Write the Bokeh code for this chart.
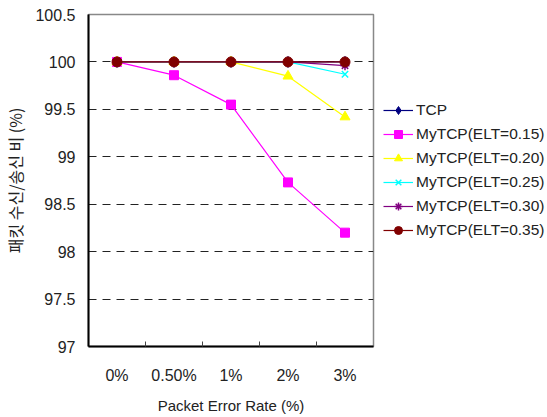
from bokeh.plotting import figure
from bokeh.models import FixedTicker, Legend, LegendItem, Range1d
from bokeh.embed import file_html
from bokeh.resources import INLINE

categories = ["0%", "0.50%", "1%", "2%", "3%"]
series_names = ["TCP", "MyTCP(ELT=0.15)", "MyTCP(ELT=0.20)", "MyTCP(ELT=0.25)",
                "MyTCP(ELT=0.30)", "MyTCP(ELT=0.35)"]
tcp = [100, 100, 100, 100, 100]
elt_015 = [100, 99.86, 99.55, 98.73, 98.20]
elt_020 = [100, 100, 100, 99.85, 99.42]
elt_025 = [100, 100, 100, 100, 99.87]
elt_030 = [100, 100, 100, 100, 99.96]
elt_035 = [100, 100, 100, 100, 100]
y_ticks = [97, 97.5, 98, 98.5, 99, 99.5, 100, 100.5]
y_tick_labels = ["97", "97.5", "98", "98.5", "99", "99.5", "100", "100.5"]

FONT = "Liberation Sans"
xs = list(range(len(categories)))

p = figure(frame_width=285, frame_height=332, output_backend="svg", toolbar_location=None,
           x_range=Range1d(-0.5, len(categories) - 0.5), y_range=Range1d(97, 100.5),
           min_border_left=86, min_border_right=0, min_border_top=14, min_border_bottom=71)

p.outline_line_color = "#888888"
p.outline_line_width = 1.5
p.xgrid.grid_line_color = None
p.ygrid.grid_line_color = "#222222"
p.ygrid.grid_line_dash = "8 6"
p.ygrid.grid_line_width = 1.2

p.xaxis.ticker = FixedTicker(ticks=xs, minor_ticks=[i + 0.5 for i in xs[:-1]])
p.xaxis.major_label_overrides = {i: c for i, c in zip(xs, categories)}
p.xaxis.major_tick_in = 0
p.xaxis.major_tick_out = 0
p.xaxis.minor_tick_in = 5
p.xaxis.minor_tick_out = 0
p.xaxis.minor_tick_line_color = "#444444"
p.xaxis.axis_line_color = "black"
p.xaxis.axis_line_width = 2
p.xaxis.major_label_standoff = 20
p.xaxis.major_label_text_font = FONT
p.xaxis.major_label_text_font_size = "16px"
p.xaxis.major_label_text_color = "#222222"
p.xaxis.axis_label = "Packet Error Rate (%)"
p.xaxis.axis_label_text_font = FONT
p.xaxis.axis_label_text_font_size = "15px"
p.xaxis.axis_label_text_font_style = "normal"
p.xaxis.axis_label_text_color = "#222222"
p.xaxis.axis_label_standoff = 10

p.yaxis.ticker = FixedTicker(ticks=y_ticks)
p.yaxis.major_label_overrides = {t: l for t, l in zip(y_ticks, y_tick_labels)}
p.yaxis.major_tick_in = 0
p.yaxis.major_tick_out = 0
p.yaxis.minor_tick_line_color = None
p.yaxis.axis_line_color = "black"
p.yaxis.axis_line_width = 2
p.yaxis.major_label_standoff = 13
p.yaxis.major_label_text_font = FONT
p.yaxis.major_label_text_font_size = "16px"
p.yaxis.major_label_text_color = "#222222"
p.yaxis.axis_label = "패킷 수신/송신 비 (%)"
p.yaxis.axis_label_text_font = "Noto Sans CJK KR"
p.yaxis.axis_label_text_font_size = "16px"
p.yaxis.axis_label_text_font_style = "normal"
p.yaxis.axis_label_text_color = "#222222"
p.yaxis.axis_label_standoff = 5

styles = [
    (tcp, "#000080", "diamond", 11),
    (elt_015, "#ff00ff", "square", 9),
    (elt_020, "#ffff00", "triangle", 10),
    (elt_025, "#00ffff", "x", 9),
    (elt_030, "#800080", "asterisk", 9),
    (elt_035, "#800000", "circle", 10),
]

items = []
for name, (vals, color, marker, size) in zip(series_names, styles):
    ln = p.line(xs, vals, line_color=color, line_width=1.2)
    if marker in ("x", "asterisk"):
        mk = p.scatter(xs, vals, marker=marker, size=size, line_color=color, line_width=1.5)
    else:
        mk = p.scatter(xs, vals, marker=marker, size=size, fill_color=color, line_color=color)
    items.append(LegendItem(label=name, renderers=[ln, mk]))

legend = Legend(items=items, location="center_left")
legend.label_text_font = FONT
legend.label_text_font_size = "15.5px"
legend.label_text_color = "#222222"
legend.glyph_width = 30
legend.glyph_height = 20
legend.label_height = 20
legend.spacing = 4
legend.label_standoff = 3
legend.padding = 10
legend.margin = 0
legend.border_line_alpha = 0
legend.background_fill_alpha = 0
legend.title = " "
legend.title_location = "below"
legend.title_text_font_size = "14px"
legend.title_standoff = 4
p.add_layout(legend, "right")

open("out.html", "w").write(file_html(p, INLINE))
